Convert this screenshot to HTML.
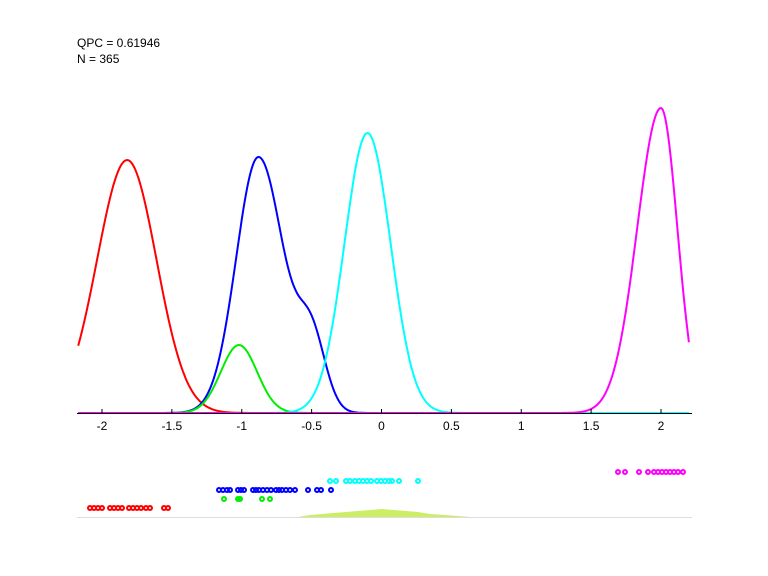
<!DOCTYPE html><html><head><style>body{margin:0;background:#fff}svg{display:block}text{font-family:"Liberation Sans",sans-serif;font-size:12px}</style></head><body>
<svg id="s" width="768" height="576" xmlns="http://www.w3.org/2000/svg">
<rect width="768" height="576" fill="#fff"/>
<text x="77" y="47">QPC = 0.61946</text>
<text x="77" y="63">N = 365</text>
<g id="c" fill="none" stroke-width="2"></g>
<line x1="77" y1="413.5" x2="692" y2="413.5" stroke="#000"/>
<g id="t"></g>
<line x1="77" y1="517.5" x2="692" y2="517.5" stroke="#ddd"/>
<polygon fill="#ccee66" points="298,517 310,515 322,514 334,513 346,512 358,511 370,510 382,509 394,510 406,511 418,512 430,514 445,515 458,516 470,517"/>
<g id="d"></g>
</svg>
<script>
const X=v=>381.5+139.75*v,B=413;
const ns="http://www.w3.org/2000/svg";
function el(p,t,a){const e=document.createElementNS(ns,t);for(const k in a)e.setAttribute(k,a[k]);p.appendChild(e);return e;}
const g=(x,m,s)=>Math.exp(-(x-m)*(x-m)/(2*s*s));
const ga=(x,m,sl,sr)=>g(x,m,x<m?sl:sr);
const curves=[
["#f00",x=>253*ga(x,-1.82,0.215,0.21)],
["#00f",x=>256*ga(x,-0.88,0.16,0.18)+70*g(x,-0.5,0.1)],
["#0e0",x=>68*g(x,-1.02,0.13)],
["#0ff",x=>280*g(x,-0.1,0.165)],
["#f0f",x=>305*ga(x,2.0,0.17,0.117)]];
const c=document.getElementById('c');
for(const [col,f] of curves){let d="";for(let x=-2.2;x<=2.2001;x+=0.01){const px=X(x);if(px<77||px>692)continue;d+=(d?"L":"M")+px.toFixed(1)+","+(B-f(x)).toFixed(1);}el(c,'path',{d,stroke:col});}
const t=document.getElementById('t');
for(let v=-2;v<=2;v+=0.5){const px=X(v);el(t,'line',{x1:px,y1:B,x2:px,y2:B-4,stroke:'#000'});const tx=el(t,'text',{x:px,y:430,'text-anchor':'middle'});tx.textContent=String(v);}
const D=document.getElementById('d');
const rows=[
["#f0f",472,[618,625,639,648,654,658,662,666,670,674,678,683]],
["#0ff",481,[330,336,346,350,355,359,363,367,371,377,381,385,389,392,399,418]],
["#00f",490,[219,223,227,230,238,241,244,253,256,259,263,267,271,276,279,282,286,290,295,308,317,321,331]],
["#0e0",499,[224,238,240,262,270]],
["#f00",508,[90,94,98,102,110,114,118,122,129,133,137,141,146,150,164,168]]];
for(const [col,y,xs] of rows)for(const x of xs)el(D,'circle',{cx:x,cy:y,r:2,fill:'none',stroke:col,'stroke-width':2});
</script></body></html>
